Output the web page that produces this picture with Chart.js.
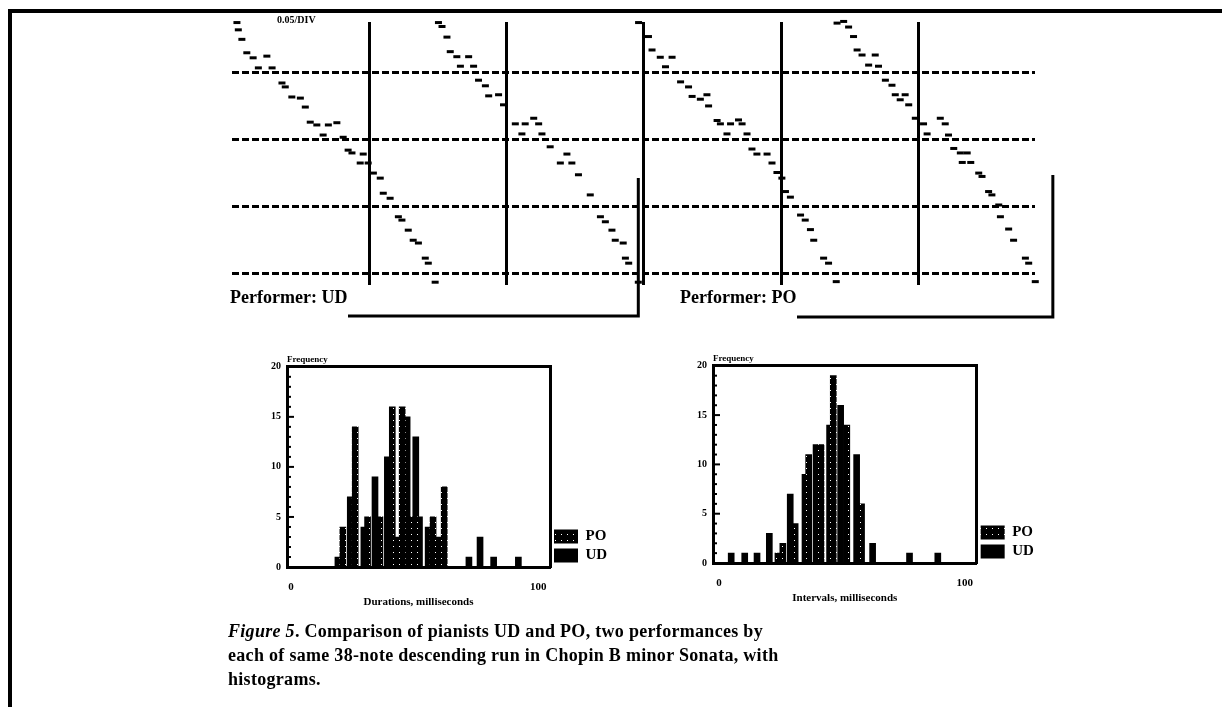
<!DOCTYPE html>
<html>
<head>
<meta charset="utf-8">
<title>Chopin descending run: timing and histograms</title>
<script src="https://cdn.jsdelivr.net/npm/chart.js@4.4.1/dist/chart.umd.min.js"></script>
<style>
  html, body { margin: 0; padding: 0; background: #fff; }
  #page { position: relative; width: 1222px; height: 707px; overflow: hidden; background: #fff;
          font-family: "Liberation Serif", serif; color: #000; }
  #page canvas { position: absolute; }
  .rule { position: absolute; background: #000; }
  .txt { position: absolute; font-weight: bold; white-space: nowrap; }
</style>
</head>
<body>
<div id="page">
  <div class="rule" style="left:8px;top:9px;width:1214px;height:4px;"></div>
  <div class="rule" style="left:8px;top:9px;width:4px;height:698px;"></div>

  <canvas id="runs" width="840" height="310" style="left:222px;top:12px;"></canvas>
  <div class="txt" style="left:277px;top:14px;font-size:10px;">0.05/DIV</div>

  <div class="txt" style="left:230px;top:287px;font-size:18px;">Performer: UD</div>
  <div class="txt" style="left:680px;top:287px;font-size:18px;">Performer: PO</div>

  <canvas id="durHist" width="400" height="280" style="left:240px;top:340px;"></canvas>
  <canvas id="intHist" width="400" height="280" style="left:665px;top:340px;"></canvas>

  <div class="txt" style="left:228px;top:619px;font-size:18px;line-height:24px;letter-spacing:0.3px;">
    <i>Figure 5</i>. Comparison of pianists UD and PO, two performances by<br>
    each of same 38-note descending run in Chopin B minor Sonata, with<br>
    histograms.
  </div>
</div>

<script>
// ---- Onset times (ms) and pitch of each note, four runs ----
const run1Time  = [1.8, 2.3, 3.6, 5.4, 7.7, 9.6, 12.7, 14.6, 18.2, 19.4, 21.8, 24.9, 26.7, 28.5, 30.9, 33.2, 35.1, 38.2, 40.5, 42.3, 43.7, 46.7, 47.8, 49.6, 51.5, 54.0, 55.1, 57.6, 60.6, 61.9, 64.2, 66.0, 67.9, 70.4, 71.5, 74.0];
const run1Pitch = [80.9, 79.6, 77.9, 75.5, 74.6, 72.8, 74.9, 72.8, 70.1, 69.4, 67.6, 67.4, 65.8, 63.1, 62.6, 60.8, 62.6, 63.0, 60.4, 58.1, 57.6, 55.8, 57.4, 55.8, 54.0, 53.1, 50.4, 49.5, 46.2, 45.6, 43.8, 42.0, 41.5, 38.8, 37.9, 34.5];

const run2Time  = [75.2, 76.5, 78.3, 79.5, 81.9, 83.2, 86.2, 88.0, 89.8, 92.3, 93.5, 97.1, 98.9, 103.2, 105.6, 106.8, 109.9, 111.7, 112.9, 115.9, 119.6, 122.0, 123.8, 126.2, 130.5, 134.2, 136.0, 138.4, 139.6, 142.5, 143.3, 144.5, 148.0];
const run2Pitch = [80.9, 80.2, 78.3, 75.7, 74.8, 73.1, 74.8, 73.1, 70.6, 69.6, 67.8, 68.0, 66.2, 62.8, 61.0, 62.8, 63.8, 62.8, 61.0, 58.7, 55.8, 57.4, 55.8, 53.7, 50.1, 46.2, 45.3, 43.8, 42.0, 41.5, 38.8, 37.9, 34.5];

const run3Time  = [148.1, 151.7, 153.0, 156.0, 157.9, 160.3, 163.4, 166.3, 167.6, 170.6, 173.0, 173.6, 176.7, 177.9, 180.3, 181.6, 184.5, 185.8, 187.6, 189.4, 191.2, 194.9, 196.7, 198.5, 200.3, 201.6, 203.4, 207.1, 208.8, 210.7, 211.9, 215.5, 217.3, 220.1];
const run3Pitch = [80.9, 78.4, 76.0, 74.7, 73.0, 74.7, 70.3, 69.4, 67.7, 67.2, 68.0, 66.0, 63.4, 62.8, 61.0, 62.8, 63.5, 62.8, 61.0, 58.3, 57.4, 57.4, 55.8, 54.1, 53.1, 50.7, 49.7, 46.5, 45.6, 43.9, 42.0, 38.8, 37.9, 34.6];

const run4Time  = [220.4, 222.8, 224.6, 226.4, 227.7, 229.5, 231.9, 234.3, 235.5, 238.0, 240.4, 241.6, 243.4, 245.2, 246.5, 248.9, 251.9, 253.2, 258.0, 259.8, 261.0, 262.9, 265.3, 266.0, 267.8, 269.1, 272.0, 273.2, 275.6, 276.8, 279.3, 279.9, 282.9, 284.7, 289.0, 290.2, 292.6];
const run4Pitch = [80.8, 81.1, 80.1, 78.4, 76.0, 75.1, 73.3, 75.1, 73.1, 70.6, 69.7, 68.0, 67.1, 68.0, 66.2, 63.8, 62.8, 61.0, 63.8, 62.8, 60.8, 58.4, 57.6, 55.9, 57.6, 55.9, 54.0, 53.4, 50.7, 50.1, 48.3, 46.2, 44.0, 42.0, 38.8, 37.9, 34.6];

const beatMarks   = [50, 100, 150, 200, 250];   // vertical time divisions
const octaveMarks = [36, 48, 60, 72];           // dotted pitch reference lines

// ---- Histogram of note durations (ms) ----
const durBinsUD   = [19, 24, 29.5, 34, 39, 43, 47, 50.5, 55.5, 60, 72, 76.5, 82, 92];
const durCountsUD = [1, 7, 4, 9, 11, 3, 15, 13, 4, 3, 1, 3, 1, 1];
const durBinsPO   = [21, 26, 31, 36, 41, 45, 48.5, 52, 57.5, 62];
const durCountsPO = [4, 14, 5, 5, 16, 16, 5, 5, 5, 8];

// ---- Histogram of inter-onset intervals (ms) ----
const intBinsUD   = [5, 10.5, 15.5, 20.5, 29, 35, 39.5, 45, 49.5, 56, 62.5, 77.5, 89];
const intCountsUD = [1, 1, 1, 3, 7, 9, 12, 14, 16, 11, 2, 1, 1];
const intBinsPO   = [24, 26, 31, 36.5, 41.5, 46.5, 52, 58];
const intCountsPO = [1, 2, 4, 11, 12, 19, 14, 6];

const histTicksX = [0, 100];

Chart.defaults.font.family = '"Liberation Serif", serif';
Chart.defaults.color = '#000';

const pts = (xs, ys) => xs.map((x, i) => ({ x, y: ys[i] }));

// Brackets that join each performer's label to the end of its pair of runs
const performerBrackets = {
  id: 'performerBrackets',
  afterDraw(chart, args, opts) {
    const { ctx, chartArea, scales: { x } } = chart;
    ctx.save();
    ctx.strokeStyle = '#000';
    ctx.lineWidth = 3;
    opts.items.forEach(b => {
      const xEnd = x.getPixelForValue(b.endTime);
      const yLine = chartArea.bottom + b.drop;
      ctx.beginPath();
      ctx.moveTo(b.startX, yLine);
      ctx.lineTo(xEnd, yLine);
      ctx.lineTo(xEnd, chartArea.top + b.rise);
      ctx.stroke();
    });
    ctx.restore();
  }
};

const runDataset = (t, p) => ({
  data: pts(t, p),
  pointStyle: 'line', pointRadius: 3.5, borderWidth: 3,
  borderColor: '#000', backgroundColor: '#000', showLine: false
});

new Chart(document.getElementById('runs'), {
  type: 'scatter',
  data: { datasets: [
    runDataset(run1Time, run1Pitch),
    runDataset(run2Time, run2Pitch),
    runDataset(run3Time, run3Pitch),
    runDataset(run4Time, run4Pitch)
  ] },
  options: {
    responsive: false, animation: false, clip: false,
    layout: { padding: { left: 10, top: 10, right: 27, bottom: 37 } },
    plugins: {
      legend: { display: false }, tooltip: { enabled: false },
      performerBrackets: { items: [
        { startX: 126, endTime: 148, drop: 31, rise: 156 },
        { startX: 575, endTime: 299, drop: 32, rise: 153 }
      ] }
    },
    scales: {
      x: {
        type: 'linear', min: 0, max: 292.5,
        ticks: { display: false },
        border: { display: false },
        grid: { color: '#000', lineWidth: 3, drawTicks: false },
        afterBuildTicks: s => { s.ticks = beatMarks.map(v => ({ value: v })); },
        afterFit: s => { s.height = 0; }
      },
      y: {
        type: 'linear', min: 34, max: 81,
        ticks: { display: false },
        border: { display: false, dash: [7, 3] },
        grid: { color: '#000', lineWidth: 3, drawTicks: false },
        afterBuildTicks: s => { s.ticks = octaveMarks.map(v => ({ value: v })); },
        afterFit: s => { s.width = 0; }
      }
    }
  },
  plugins: [performerBrackets]
});

// Minor tick marks along the inside of the frequency axis
const frequencyTicks = {
  id: 'frequencyTicks',
  afterDraw(chart) {
    const { ctx, chartArea, scales: { y } } = chart;
    ctx.save();
    ctx.strokeStyle = '#000';
    ctx.lineWidth = 2;
    for (let v = y.min; v <= y.max; v++) {
      const py = y.getPixelForValue(v);
      ctx.beginPath();
      ctx.moveTo(chartArea.left, py);
      ctx.lineTo(chartArea.left + (v % 5 === 0 ? 7 : 4), py);
      ctx.stroke();
    }
    ctx.restore();
  }
};

// Fill for the PO bars: black with a sparse column of white specks
const dotTile = document.createElement('canvas');
dotTile.width = 6; dotTile.height = 6;
(() => {
  const c = dotTile.getContext('2d');
  c.fillStyle = '#000'; c.fillRect(0, 0, 6, 6);
  c.fillStyle = '#fff'; c.fillRect(3, 2, 1, 1);
})();

function makeHistogram(id, cfg) {
  const canvas = document.getElementById(id);
  const dotted = canvas.getContext('2d').createPattern(dotTile, 'repeat');
  const frameAxis = { ticks: { display: false }, grid: { drawOnChartArea: false, drawTicks: false },
                      border: { color: '#000', width: 3 } };
  return new Chart(canvas, {
    type: 'bar',
    data: { datasets: [
      { label: 'PO', data: pts(cfg.poBins, cfg.poCounts), backgroundColor: dotted,
        borderWidth: 0, barThickness: 6, grouped: false },
      { label: 'UD', data: pts(cfg.udBins, cfg.udCounts), backgroundColor: '#000',
        borderWidth: 0, barThickness: 6, grouped: false }
    ] },
    options: {
      responsive: false, animation: false,
      layout: { padding: cfg.padding },
      plugins: {
        tooltip: { enabled: false },
        title: { display: true, text: 'Frequency', align: 'start', fullSize: false,
                 font: { size: 9, weight: 'bold' }, padding: { top: 0, bottom: 2 } },
        legend: { display: true, position: 'right', align: 'end', fullSize: false,
                  labels: { boxWidth: 24, boxHeight: 14, padding: 4,
                            font: { size: 15, weight: 'bold' } } }
      },
      scales: {
        x: {
          type: 'linear', position: 'bottom', min: cfg.xMin, max: cfg.xMax, offset: false,
          grid: { drawOnChartArea: false, drawTicks: false, offset: false },
          border: { color: '#000', width: 3 },
          ticks: { padding: 14, font: { size: 11, weight: 'bold' }, maxRotation: 0, autoSkip: false },
          title: { display: true, text: cfg.xTitle, font: { size: 11, weight: 'bold' }, padding: 0 },
          afterBuildTicks: s => { s.ticks = histTicksX.map(v => ({ value: v })); },
          afterFit: s => { s.height = 42; }
        },
        xTop: Object.assign({ type: 'linear', position: 'top', min: cfg.xMin, max: cfg.xMax, offset: false,
                              afterFit: s => { s.height = 0; } }, frameAxis),
        y: {
          type: 'linear', min: 0, max: 20,
          grid: { drawOnChartArea: false, drawTicks: false },
          border: { color: '#000', width: 3 },
          ticks: { stepSize: 5, padding: 6, font: { size: 10, weight: 'bold' } },
          afterFit: s => { s.width = cfg.yWidth; }
        },
        yRight: Object.assign({ type: 'linear', position: 'right', min: 0, max: 20,
                                afterFit: s => { s.width = 0; } }, frameAxis)
      }
    },
    plugins: [frequencyTicks]
  });
}

makeHistogram('durHist', {
  udBins: durBinsUD, udCounts: durCountsUD, poBins: durBinsPO, poCounts: durCountsPO,
  xMin: -1.6, xMax: 104.8, xTitle: 'Durations, milliseconds', yWidth: 47,
  padding: { left: 0, top: 14, right: 28, bottom: 11 }
});

makeHistogram('intHist', {
  udBins: intBinsUD, udCounts: intCountsUD, poBins: intBinsPO, poCounts: intCountsPO,
  xMin: -2.4, xMax: 104.8, xTitle: 'Intervals, milliseconds', yWidth: 48,
  padding: { left: 0, top: 13, right: 26, bottom: 15 }
});
</script>
</body>
</html>
